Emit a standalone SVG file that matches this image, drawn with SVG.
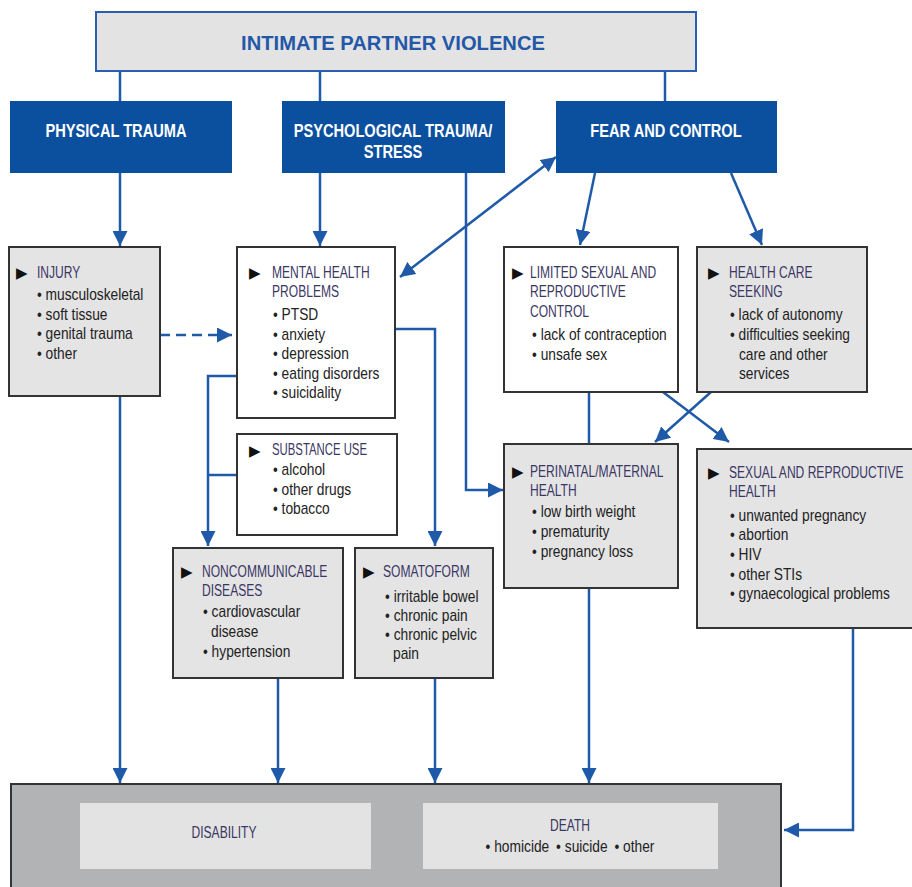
<svg xmlns="http://www.w3.org/2000/svg" width="912" height="887" viewBox="0 0 912 887">
<defs>
<marker id="ah" viewBox="0 0 10 10" refX="10" refY="5" markerWidth="15" markerHeight="15" markerUnits="userSpaceOnUse" orient="auto-start-reverse">
<path d="M0,0 L10,5 L0,10 z" fill="#1f5aa8"/>
</marker>
<style>
.box{stroke:#333;stroke-width:2}
.g{fill:#e4e4e4}
.w{fill:#ffffff}
.blue{fill:#0b4f9f}
.f{font-family:"Liberation Sans",Arial,sans-serif;transform-box:fill-box;transform-origin:0 0}
.title{font-size:21px;font-weight:bold;fill:#2358a8;text-anchor:middle;transform-origin:50% 0;transform:scaleX(0.96)}
.bt{font-size:19px;font-weight:bold;fill:#ffffff;text-anchor:middle;transform-origin:50% 0;transform:scaleX(0.77)}
.h{font-size:17px;fill:#3b3764;transform:scaleX(0.71)}
.hs{font-size:16px;fill:#3b3764;transform:scaleX(0.71)}
.t{font-size:16px;fill:#222222;transform:scaleX(0.86)}
.tri{font-family:"DejaVu Sans",sans-serif;font-size:15px;fill:#111}
.c{fill:none;stroke:#1f5aa8;stroke-width:2.5}
.end{text-anchor:middle;transform-origin:50% 0}
</style>
</defs>

<g id="connectors">
<path class="c" d="M120 71 V101"/>
<path class="c" d="M320 71 V101"/>
<path class="c" d="M665 71 V101"/>
<path class="c" d="M120 173 V246" marker-end="url(#ah)"/>
<path class="c" d="M320 173 V246" marker-end="url(#ah)"/>
<path class="c" d="M466 173 V490 H503" marker-end="url(#ah)"/>
<path class="c" d="M400 277 L556 157" marker-start="url(#ah)" marker-end="url(#ah)"/>
<path class="c" d="M595 173 L580 245" marker-end="url(#ah)"/>
<path class="c" d="M731 173 L762 245" marker-end="url(#ah)"/>
<path class="c" d="M160 335 H232" stroke-dasharray="10 6" marker-end="url(#ah)"/>
<path class="c" d="M395 329 H435 V546" marker-end="url(#ah)"/>
<path class="c" d="M237 376 H208 V546" marker-end="url(#ah)"/>
<path class="c" d="M237 475 H208"/>
<path class="c" d="M589 392 V444"/>
<path class="c" d="M663 392 L729 442" marker-end="url(#ah)"/>
<path class="c" d="M711 392 L655 442" marker-end="url(#ah)"/>
<path class="c" d="M120 396 V783" marker-end="url(#ah)"/>
<path class="c" d="M278 678 V783" marker-end="url(#ah)"/>
<path class="c" d="M435 678 V783" marker-end="url(#ah)"/>
<path class="c" d="M589 588 V783" marker-end="url(#ah)"/>
<path class="c" d="M853 628 V830 H784" marker-end="url(#ah)"/>
</g>

<g id="ipv">
<rect x="96" y="12" width="600" height="59" fill="#e3e3e3" stroke="#2a5fae" stroke-width="2"/>
<text class="f title" x="393" y="50">INTIMATE PARTNER VIOLENCE</text>
</g>

<g id="physical-trauma">
<rect class="blue" x="10" y="101" width="222" height="72"/>
<text class="f bt" x="116" y="137">PHYSICAL TRAUMA</text>
</g>

<g id="psychological-trauma">
<rect class="blue" x="282" y="101" width="223" height="72"/>
<text class="f bt" x="393" y="137">PSYCHOLOGICAL TRAUMA/</text>
<text class="f bt" x="393" y="158">STRESS</text>
</g>

<g id="fear-control">
<rect class="blue" x="556" y="101" width="221" height="72"/>
<text class="f bt" x="666" y="137">FEAR AND CONTROL</text>
</g>

<g id="injury">
<rect class="box g" x="9" y="247" width="151" height="149"/>
<text class="tri" x="16" y="278">▶</text>
<text class="f h" x="37" y="278">INJURY</text>
<text class="f t" x="37" y="300">• musculoskeletal</text>
<text class="f t" x="37" y="320">• soft tissue</text>
<text class="f t" x="37" y="339">• genital trauma</text>
<text class="f t" x="37" y="359">• other</text>
</g>

<g id="mental-health">
<rect class="box w" x="237" y="247" width="158" height="171"/>
<text class="tri" x="249" y="278">▶</text>
<text class="f h" x="272" y="278">MENTAL HEALTH</text>
<text class="f h" x="272" y="297">PROBLEMS</text>
<text class="f t" x="273" y="320">• PTSD</text>
<text class="f t" x="273" y="340">• anxiety</text>
<text class="f t" x="273" y="359">• depression</text>
<text class="f t" x="273" y="379">• eating disorders</text>
<text class="f t" x="273" y="398">• suicidality</text>
</g>

<g id="substance-use">
<rect class="box w" x="237" y="434" width="160" height="101"/>
<text class="tri" x="249" y="456">▶</text>
<text class="f hs" x="272" y="455">SUBSTANCE USE</text>
<text class="f t" x="273" y="475">• alcohol</text>
<text class="f t" x="273" y="495">• other drugs</text>
<text class="f t" x="273" y="514">• tobacco</text>
</g>

<g id="noncommunicable">
<rect class="box g" x="173" y="548" width="170" height="130"/>
<text class="tri" x="181" y="577">▶</text>
<text class="f h" x="202" y="577">NONCOMMUNICABLE</text>
<text class="f h" x="202" y="596">DISEASES</text>
<text class="f t" x="203" y="617">• cardiovascular</text>
<text class="f t" x="211" y="637">disease</text>
<text class="f t" x="203" y="657">• hypertension</text>
</g>

<g id="somatoform">
<rect class="box g" x="355" y="548" width="138" height="130"/>
<text class="tri" x="363" y="577">▶</text>
<text class="f h" x="383" y="577">SOMATOFORM</text>
<text class="f t" x="385" y="602">• irritable bowel</text>
<text class="f t" x="385" y="621">• chronic pain</text>
<text class="f t" x="385" y="640">• chronic pelvic</text>
<text class="f t" x="393" y="659">pain</text>
</g>

<g id="limited-control">
<rect class="box w" x="504" y="247" width="174" height="145"/>
<text class="tri" x="512" y="278">▶</text>
<text class="f h" x="530" y="278">LIMITED SEXUAL AND</text>
<text class="f h" x="530" y="297">REPRODUCTIVE</text>
<text class="f h" x="530" y="317">CONTROL</text>
<text class="f t" x="532" y="340">• lack of contraception</text>
<text class="f t" x="532" y="360">• unsafe sex</text>
</g>

<g id="health-care-seeking">
<rect class="box g" x="697" y="247" width="170" height="145"/>
<text class="tri" x="708" y="278">▶</text>
<text class="f h" x="729" y="278">HEALTH CARE</text>
<text class="f h" x="729" y="297">SEEKING</text>
<text class="f t" x="730" y="320">• lack of autonomy</text>
<text class="f t" x="730" y="340">• difficulties seeking</text>
<text class="f t" x="739" y="360">care and other</text>
<text class="f t" x="739" y="379">services</text>
</g>

<g id="perinatal">
<rect class="box g" x="504" y="444" width="174" height="144"/>
<text class="tri" x="512" y="477">▶</text>
<text class="f h" x="530" y="477">PERINATAL/MATERNAL</text>
<text class="f h" x="530" y="496">HEALTH</text>
<text class="f t" x="532" y="517">• low birth weight</text>
<text class="f t" x="532" y="537">• prematurity</text>
<text class="f t" x="532" y="557">• pregnancy loss</text>
</g>

<g id="sexual-reproductive">
<rect class="box g" x="697" y="449" width="222" height="179"/>
<text class="tri" x="708" y="478">▶</text>
<text class="f h" x="729" y="478">SEXUAL AND REPRODUCTIVE</text>
<text class="f h" x="729" y="497">HEALTH</text>
<text class="f t" x="730" y="521">• unwanted pregnancy</text>
<text class="f t" x="730" y="540">• abortion</text>
<text class="f t" x="730" y="560">• HIV</text>
<text class="f t" x="730" y="580">• other STIs</text>
<text class="f t" x="730" y="599">• gynaecological problems</text>
</g>

<g id="outcomes">
<rect x="11" y="784" width="770" height="115" fill="#b2b3b5" stroke="#333" stroke-width="2"/>
<rect x="80" y="803" width="291" height="66" fill="#e3e3e3"/>
<rect x="423" y="803" width="295" height="66" fill="#e3e3e3"/>
<text class="f h end" x="224" y="838">DISABILITY</text>
<text class="f h end" x="570" y="831">DEATH</text>
<text class="f t end" x="570" y="852">• homicide<tspan dx="8">• suicide</tspan><tspan dx="8">• other</tspan></text>
</g>
</svg>
